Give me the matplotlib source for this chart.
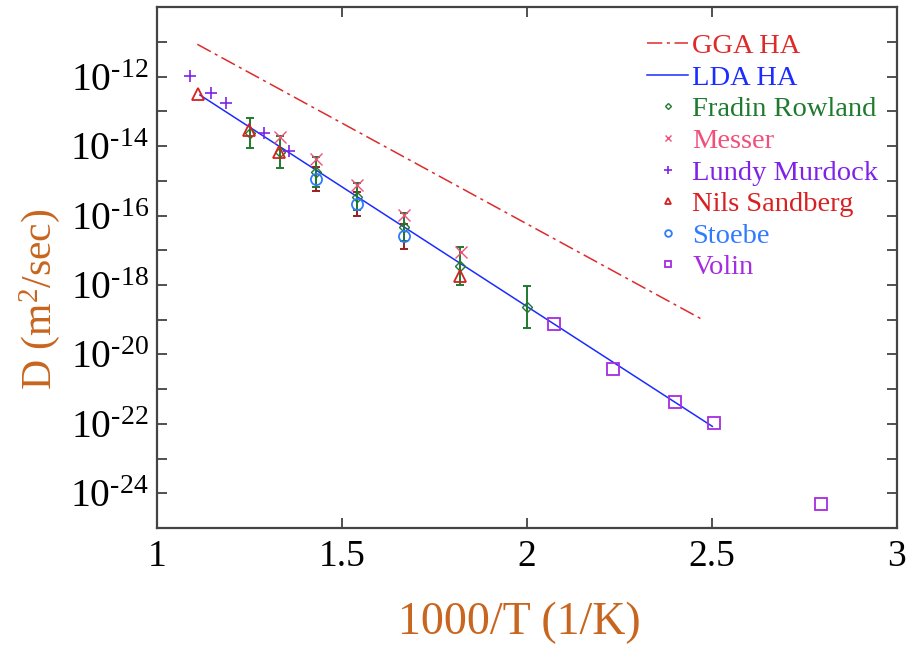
import numpy as np
import matplotlib
matplotlib.use("Agg")
import matplotlib.pyplot as plt
from matplotlib.ticker import FixedLocator, FuncFormatter, NullLocator

plt.rcParams['font.family'] = ['Liberation Serif', 'DejaVu Serif']
plt.rcParams['mathtext.fontset'] = 'custom'
plt.rcParams['mathtext.rm'] = 'Liberation Serif'
plt.rcParams['mathtext.it'] = 'Liberation Serif:italic'
plt.rcParams['mathtext.bf'] = 'Liberation Serif:bold'

# ---- data (x = 1000/T in 1/K, D in m^2/s) ----
gga_x = [1.109, 2.475]
gga_D = [8.5e-12, 1.0e-19]

lda_x = [1.116, 2.501]
lda_D = [2.95e-13, 8.5e-23]

fradin_x = [1.25, 1.333, 1.43, 1.54, 1.667, 1.82, 2.0]
fradin_logD = [-13.62, -14.17, -14.74, -15.46, -16.33, -17.45, -18.63]
fradin_err_dec = [0.44, 0.45, 0.43, 0.39, 0.40, 0.55, 0.60]

messer_x = [1.332, 1.429, 1.540, 1.668, 1.821]
messer_logD = [-13.74, -14.37, -15.12, -15.98, -17.04]

lundy_x = [1.089, 1.145, 1.186, 1.288, 1.358]
lundy_logD = [-11.98, -12.48, -12.77, -13.63, -14.13]

nils_x = [1.110, 1.249, 1.331, 1.819]
nils_logD = [-12.50, -13.55, -14.16, -17.74]

stoebe_x = [1.430, 1.540, 1.668]
stoebe_logD = [-14.95, -15.67, -16.60]
stoebe_err_dec = [0.35, 0.34, 0.36]

volin_x = [2.073, 2.233, 2.399, 2.506, 2.794]
volin_logD = [-19.13, -20.42, -21.37, -21.96, -24.31]

x_ticks = [1, 1.5, 2, 2.5, 3]
y_tick_exps = list(range(-25, -9))
y_label_exps = [-24, -22, -20, -18, -16, -14, -12]

# colors
c_gga = '#dd2b2b'
c_lda = '#1a2cff'
c_fradin = '#1e7a2e'
c_messer = '#f0507a'
c_lundy = '#7f22e8'
c_nils = '#d82020'
c_stoebe = '#2f7bff'
c_volin = '#a62ce0'
c_stoebe_err = '#9a1f1f'
c_label = '#c8651e'

fig = plt.figure(figsize=(9.06, 6.48), dpi=100)
ax = fig.add_axes([0.1733, 0.185, 0.8167, 0.804])
ax.set_yscale('log')

def tolin(a):
    return 10.0 ** np.asarray(a, dtype=float)

def yerr_from(logD, err):
    D = tolin(logD)
    e = np.asarray(err, dtype=float)
    return [D - D / 10 ** e, D * 10 ** e - D]

h_gga, = ax.plot(gga_x, gga_D, color=c_gga, lw=1.1, dashes=(10, 3, 2, 3))
h_lda, = ax.plot(lda_x, lda_D, color=c_lda, lw=1.1)

# error bars
ax.errorbar(stoebe_x, tolin(stoebe_logD), yerr=yerr_from(stoebe_logD, stoebe_err_dec),
            fmt='none', ecolor=c_stoebe_err, elinewidth=1.4, capsize=3, capthick=1.4, zorder=2)
ax.errorbar(fradin_x, tolin(fradin_logD), yerr=yerr_from(fradin_logD, fradin_err_dec),
            fmt='none', ecolor=c_fradin, elinewidth=1.4, capsize=3, capthick=1.4, zorder=2)

mk = dict(linestyle='none', markerfacecolor='none', zorder=3)
h_fr, = ax.plot(fradin_x, tolin(fradin_logD), marker='D', ms=5, mew=1.0,
                markeredgecolor=c_fradin, **mk)
h_me, = ax.plot(messer_x, tolin(messer_logD), marker='x', ms=8, mew=1.0,
                color=c_messer, linestyle='none', zorder=3)
h_lu, = ax.plot(lundy_x, tolin(lundy_logD), marker='+', ms=9, mew=1.2,
                color=c_lundy, linestyle='none', zorder=3)
h_ni, = ax.plot(nils_x, tolin(nils_logD), marker='^', ms=8, mew=1.3,
                markeredgecolor=c_nils, **mk)
h_st, = ax.plot(stoebe_x, tolin(stoebe_logD), marker='o', ms=8, mew=1.3,
                markeredgecolor=c_stoebe, **mk)
h_vo, = ax.plot(volin_x, tolin(volin_logD), marker='s', ms=8, mew=1.3,
                markeredgecolor=c_volin, **mk)

ax.set_xlim(1, 3)
ax.set_ylim(1e-25, 1e-10)
ax.xaxis.set_major_locator(FixedLocator(x_ticks))
ax.xaxis.set_minor_locator(NullLocator())
ax.xaxis.set_major_formatter(FuncFormatter(lambda v, p: ('%g' % v)))
ax.yaxis.set_major_locator(FixedLocator([10.0 ** e for e in y_tick_exps]))
ax.yaxis.set_minor_locator(NullLocator())

def yfmt(v, p):
    e = int(round(np.log10(v)))
    if e in y_label_exps:
        return r'$\mathregular{10^{\text{-%d}}}$' % (-e)
    return ''
ax.yaxis.set_major_formatter(FuncFormatter(yfmt))

ax.tick_params(axis='both', which='major', direction='in', length=7, width=1.2,
               top=True, right=True, labelsize=27, colors='#333333', labelcolor='black', pad=8)
ax.tick_params(axis='y', pad=6, labelsize=28.5)
for s in ax.spines.values():
    s.set_color('#444444')
    s.set_linewidth(1.6)

ax.set_xlabel('1000/T (1/K)', fontsize=33, color=c_label, labelpad=20)
ax.xaxis.label.set_x(0.489)
ax.set_ylabel(r'D (m$^{2}$/sec)', fontsize=30, color=c_label)
ax.yaxis.set_label_coords(-0.128, 0.44)

handles = [h_gga, h_lda, h_fr, h_me, h_lu, h_ni, h_st, h_vo]
labels = ['GGA HA', 'LDA HA', 'Fradin Rowland', 'Messer', 'Lundy Murdock',
          'Nils Sandberg', 'Stoebe', 'Volin']
text_colors = [c_gga, c_lda, c_fradin, c_messer, c_lundy, c_nils, c_stoebe, c_volin]
leg = ax.legend(handles, labels, loc='upper left', bbox_to_anchor=(0.6467, 0.972),
                frameon=False, fontsize=20.5, handlelength=1.45, handletextpad=0.15,
                labelspacing=0.2, markerscale=0.6, borderaxespad=0)
for t, c in zip(leg.get_texts(), text_colors):
    t.set_color(c)

fig.savefig('out.png', dpi=100)
